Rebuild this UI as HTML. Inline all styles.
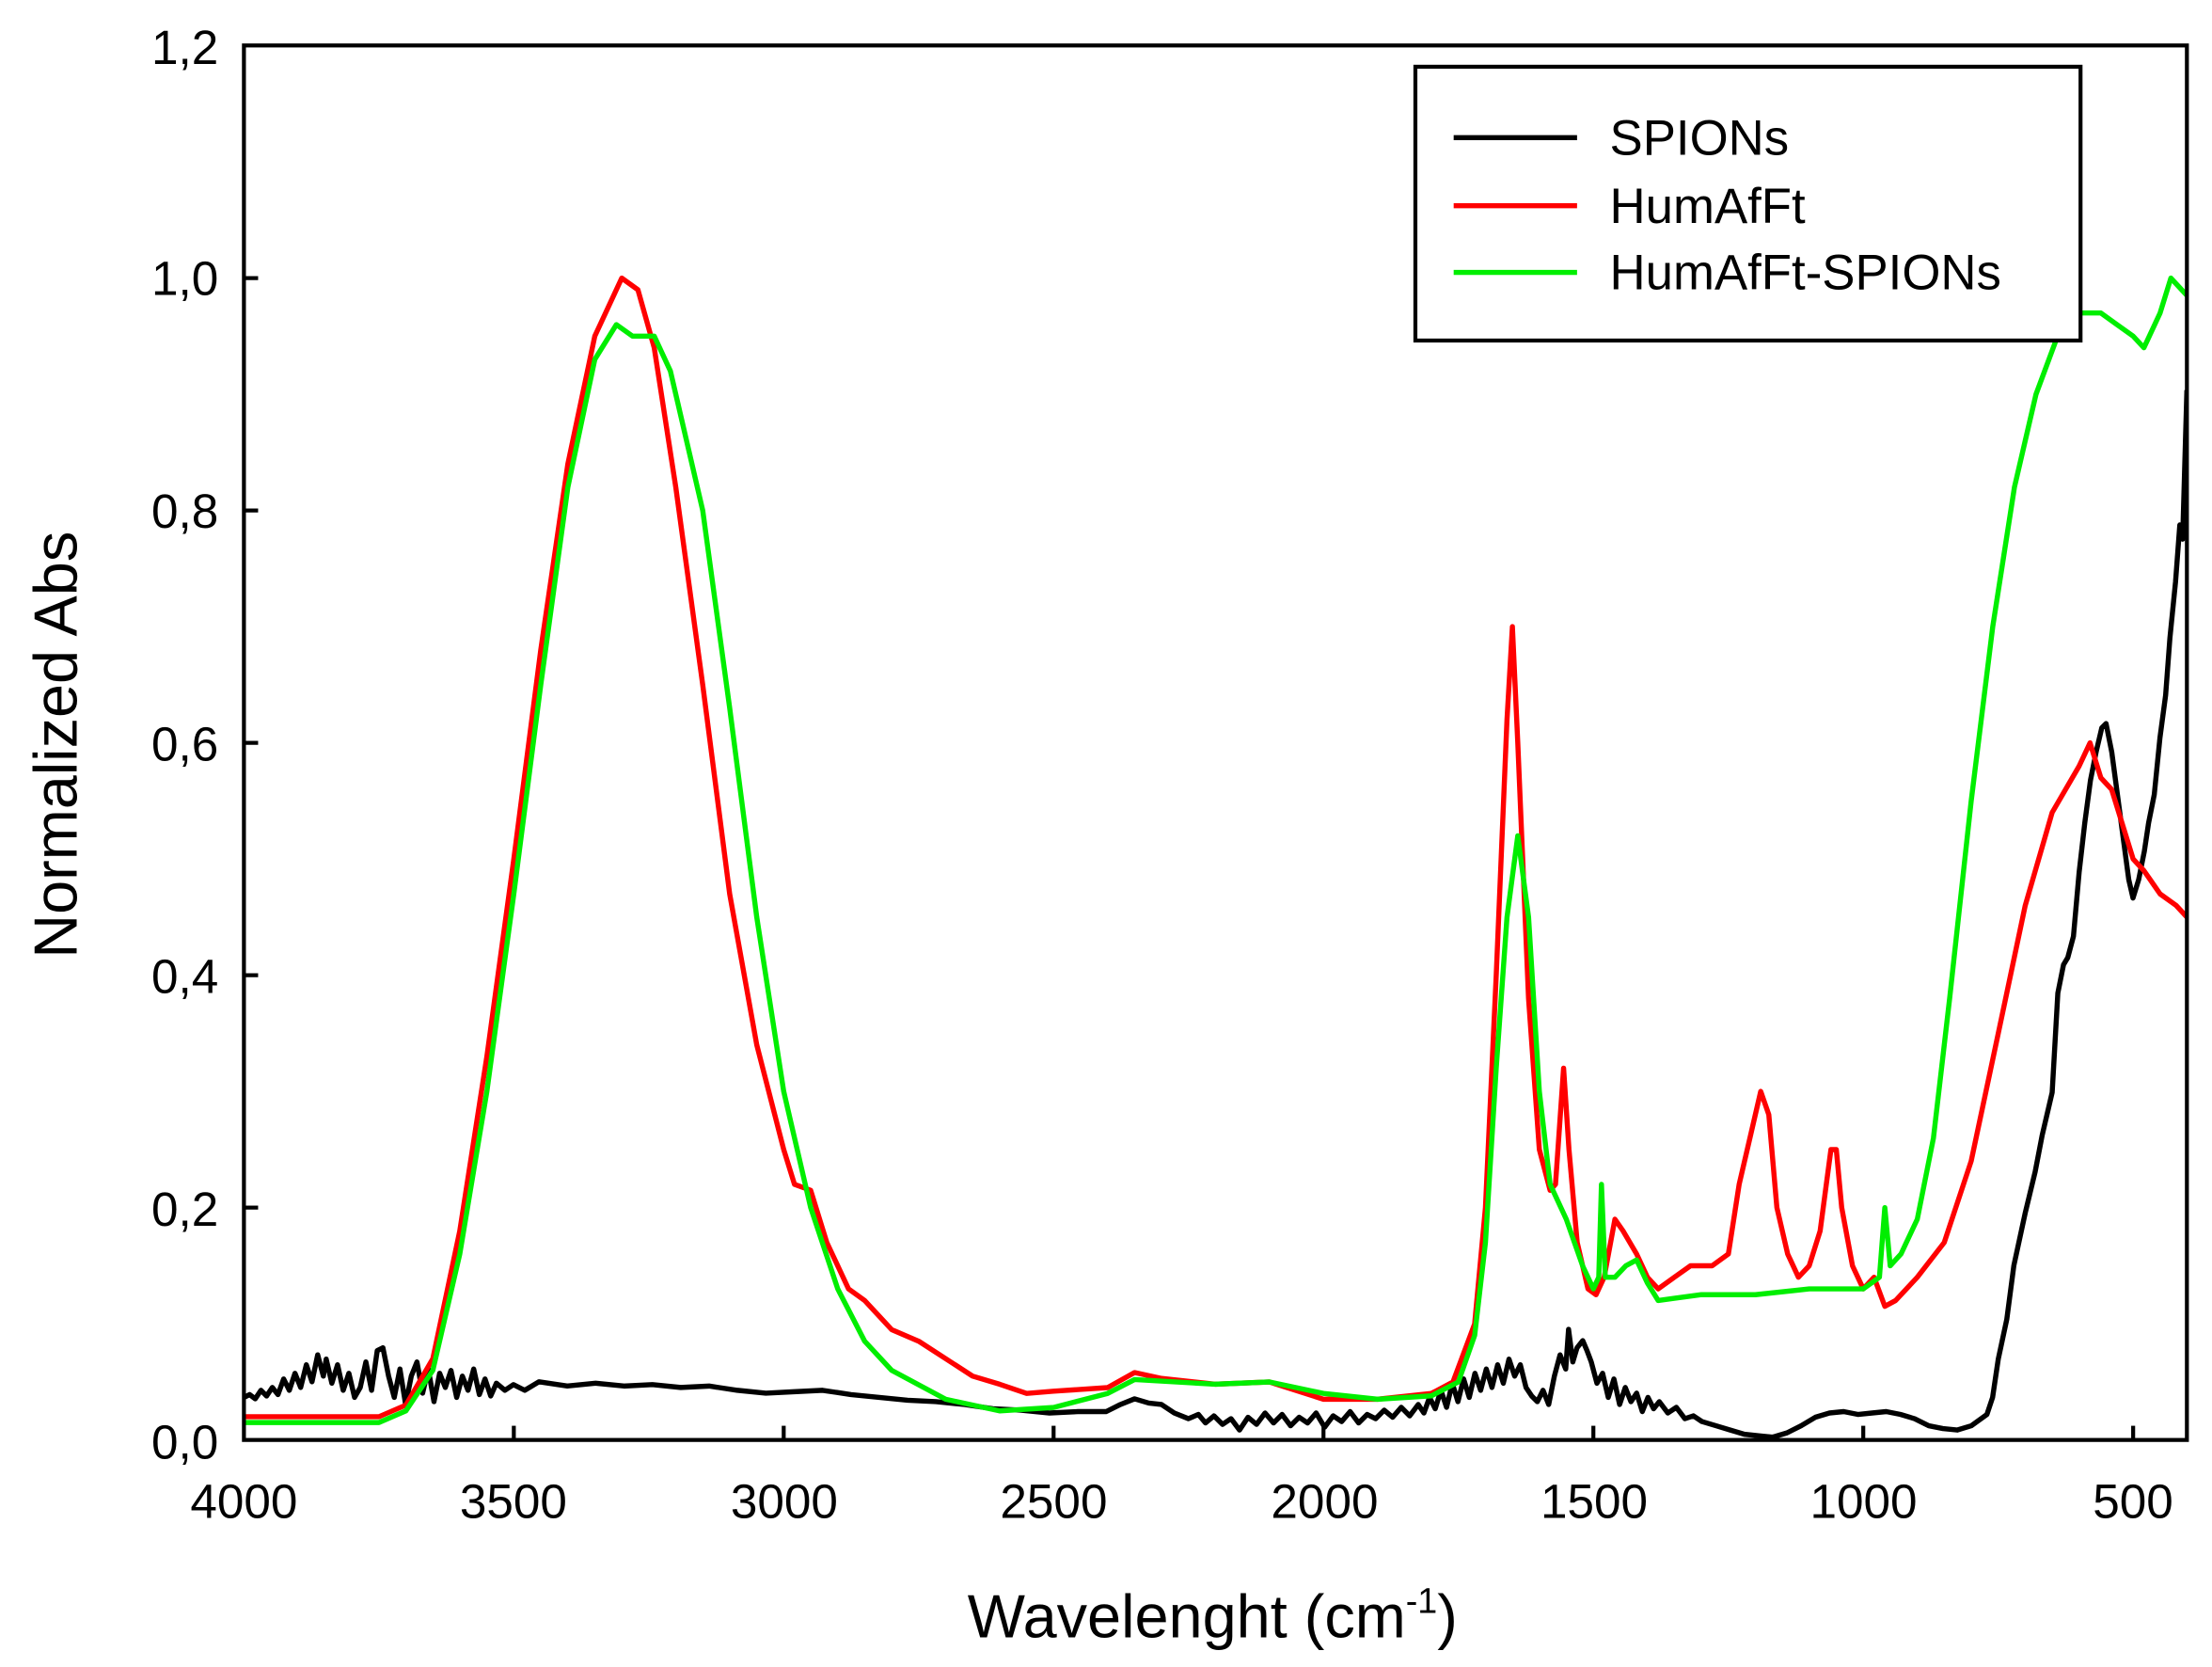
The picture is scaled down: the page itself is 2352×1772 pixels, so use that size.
<!DOCTYPE html>
<html><head><meta charset="utf-8"><style>html,body{margin:0;padding:0;background:#fff}svg{display:block}</style></head>
<body>
<svg width="2352" height="1772" viewBox="0 0 1559.7 1175" xmlns="http://www.w3.org/2000/svg" font-family="Liberation Sans, Arial, sans-serif">
<defs><clipPath id="c"><rect x="172" y="32" width="1370" height="983"/></clipPath></defs>
<rect width="1560" height="1175" fill="#fff"/>
<g clip-path="url(#c)" fill="none" stroke-width="3.6" stroke-linejoin="round">
<path stroke="#000" d="M172 985 L176 983 L180 986 L184 980 L188 984 L192 978 L196 983 L200 972 L204 980 L208 968 L212 978 L216 962 L220 974 L224 955 L228 970 L230 958 L234 975 L238 962 L242 980 L246 968 L250 985 L254 978 L258 960 L262 980 L266 952 L270 950 L274 970 L278 985 L282 965 L286 990 L290 970 L294 960 L298 982 L302 965 L306 988 L310 968 L314 978 L318 966 L322 985 L326 970 L330 980 L334 965 L338 983 L342 972 L346 984 L350 975 L356 980 L362 976 L370 980 L380 974 L400 977 L420 975 L440 977 L460 976 L480 978 L500 977 L520 980 L540 982 L560 981 L580 980 L600 983 L620 985 L640 987 L660 988 L680 990 L700 993 L720 994 L740 996 L760 995 L780 995 L790 990 L800 986 L810 989 L819 990 L828 996 L838 1000 L845 997 L850 1003 L856 998 L862 1004 L868 1000 L874 1008 L880 999 L886 1004 L892 996 L898 1003 L904 997 L910 1005 L916 999 L922 1003 L928 996 L934 1006 L940 998 L946 1002 L952 995 L958 1003 L964 997 L970 1000 L976 994 L982 999 L988 992 L994 998 L1000 990 L1004 996 L1008 985 L1012 993 L1016 980 L1020 992 L1024 975 L1028 988 L1032 972 L1036 985 L1040 968 L1044 980 L1048 965 L1052 978 L1056 962 L1060 975 L1064 958 L1068 970 L1072 962 L1076 978 L1080 984 L1084 988 L1088 980 L1092 990 L1096 970 L1100 955 L1104 965 L1106 937 L1109 960 L1112 950 L1116 945 L1119 952 L1122 960 L1126 975 L1130 968 L1134 985 L1138 972 L1142 990 L1146 978 L1150 988 L1154 982 L1158 995 L1162 985 L1166 993 L1170 988 L1176 996 L1182 992 L1188 1000 L1194 998 L1200 1002 L1210 1005 L1220 1008 L1230 1011 L1240 1012 L1250 1013 L1260 1010 L1270 1005 L1280 999 L1290 996 L1300 995 L1310 997 L1320 996 L1330 995 L1340 997 L1350 1000 L1360 1005 L1370 1007 L1380 1008 L1390 1005 L1401 997 L1405 985 L1409 958 L1415 930 L1420 892 L1428 855 L1435 826 L1440 800 L1447 770 L1451 700 L1455 680 L1458 675 L1462 660 L1466 615 L1470 580 L1474 550 L1478 530 L1482 513 L1485 510 L1489 530 L1493 560 L1497 590 L1501 620 L1504 633 L1508 620 L1512 600 L1515 580 L1519 560 L1523 520 L1527 490 L1530 450 L1534 410 L1537 370 L1539 380 L1542 275"/>
<path stroke="#f00" d="M172 998.6 L267.2 998.6 L286.2 990.4 L305.2 957.7 L324.2 867.6 L343.3 744.7 L362.3 605.5 L381.3 458.1 L400.4 327.0 L419.4 236.9 L438.4 196 L449.8 204.2 L461.3 245.1 L476.5 343.4 L495.5 482.7 L514.5 630.1 L533.6 736.5 L552.6 810.3 L560.2 834.8 L571.6 839.0 L583.0 875.8 L598.3 908.5 L609.7 916.7 L628.7 937.2 L647.8 945.4 L666.8 957.7 L685.8 970.0 L704.8 975.7 L723.9 982.2 L742.9 980.6 L781.0 978.1 L800.0 967.5 L819.0 971.6 L857.1 975.7 L895.1 974.1 L933.2 986.3 L971.3 986.3 L1009.3 982.2 L1024.5 974.1 L1039.8 933.1 L1047.4 851.2 L1055.0 687.4 L1062.6 507.2 L1066.4 441.7 L1070.2 523.6 L1077.8 703.8 L1085.4 810.3 L1093.0 839.0 L1096.8 834.8 L1102.5 752.9 L1106.3 810.3 L1112.1 875.8 L1119.7 908.5 L1125.4 912.6 L1131.1 900.3 L1138.7 859.4 L1144.4 867.6 L1154.0 883.9 L1161.6 900.3 L1169.2 908.5 L1180.6 900.3 L1192.0 892.2 L1207.3 892.2 L1218.7 883.9 L1226.3 834.8 L1233.9 802.1 L1241.5 769.3 L1247.2 785.7 L1252.9 851.2 L1260.5 883.9 L1268.1 900.3 L1275.7 892.2 L1283.4 867.6 L1291.0 810.3 L1294.8 810.3 L1298.6 851.2 L1306.2 892.2 L1313.8 908.5 L1321.4 900.3 L1329.0 920.8 L1336.6 916.7 L1351.9 900.3 L1370.9 875.8 L1389.9 818.4 L1409.0 728.4 L1428.0 638.3 L1447.0 572.7 L1466.0 540.0 L1473.7 523.6 L1481.3 548.2 L1488.9 556.4 L1496.5 580.9 L1504.1 605.5 L1511.7 613.7 L1523.1 630.1 L1534.5 638.3 L1542.1 646.5"/>
<path stroke="#0e0" d="M172 1002.7 L267.2 1002.7 L286.2 994.5 L305.2 965.9 L324.2 883.9 L343.3 769.3 L362.3 630 L381.3 482.7 L400.4 343.4 L419.4 253.3 L434.6 228.8 L446.0 236.9 L461.3 236.9 L472.7 261.5 L495.5 359.8 L514.5 499.0 L533.6 646.5 L552.6 769.3 L571.6 851.2 L590.7 908.5 L609.7 945.4 L628.7 965.9 L666.8 986.3 L704.8 994.5 L742.9 992.1 L781.0 982.2 L800.0 972.4 L857.1 975.7 L895.1 974.1 L933.2 982.2 L971.3 986.3 L1009.3 983.9 L1028.3 974.1 L1039.8 941.3 L1047.4 875.8 L1055.0 752.9 L1062.6 646.5 L1070.2 589.1 L1077.8 646.5 L1085.4 769.3 L1093.0 834.8 L1104.4 859.4 L1115.9 892.2 L1123.5 908.5 L1127.3 900.3 L1129.2 834.8 L1131.9 900.3 L1138.7 900.3 L1146.4 892.2 L1154.0 888.1 L1161.6 904.4 L1169.2 916.7 L1199.6 912.6 L1237.7 912.6 L1275.7 908.5 L1313.8 908.5 L1325.2 900.3 L1329.0 851.2 L1332.8 892.2 L1340.4 883.9 L1351.9 859.4 L1363.3 802.1 L1374.7 703.8 L1389.9 564.6 L1405.1 441.7 L1420.4 343.4 L1435.6 277.9 L1450.8 236.9 L1466.0 220.6 L1481.3 220.6 L1492.7 228.8 L1504.1 236.9 L1511.7 245.1 L1523.1 220.6 L1530.7 196 L1538.3 204.2 L1542.1 208.3"/>
</g>
<rect x="172" y="32" width="1370" height="983" fill="none" stroke="#000" stroke-width="2.8"/>
<g stroke="#000" stroke-width="2.8">
<line x1="362.3" y1="1015" x2="362.3" y2="1005"/><line x1="552.6" y1="1015" x2="552.6" y2="1005"/><line x1="742.9" y1="1015" x2="742.9" y2="1005"/><line x1="933.2" y1="1015" x2="933.2" y2="1005"/><line x1="1123.5" y1="1015" x2="1123.5" y2="1005"/><line x1="1313.8" y1="1015" x2="1313.8" y2="1005"/><line x1="1504.1" y1="1015" x2="1504.1" y2="1005"/>
<line x1="172" y1="851.2" x2="182" y2="851.2"/><line x1="172" y1="687.4" x2="182" y2="687.4"/><line x1="172" y1="523.6" x2="182" y2="523.6"/><line x1="172" y1="359.8" x2="182" y2="359.8"/><line x1="172" y1="196" x2="182" y2="196"/>
</g>
<g font-size="34" fill="#000" text-anchor="end">
<text x="154" y="1028">0,0</text><text x="154" y="864">0,2</text><text x="154" y="700">0,4</text>
<text x="154" y="536">0,6</text><text x="154" y="372">0,8</text><text x="154" y="208">1,0</text><text x="154" y="45">1,2</text>
</g>
<g font-size="34" fill="#000" text-anchor="middle">
<text x="172" y="1070">4000</text><text x="362" y="1070">3500</text><text x="553" y="1070">3000</text>
<text x="743" y="1070">2500</text><text x="934" y="1070">2000</text><text x="1124" y="1070">1500</text>
<text x="1314" y="1070">1000</text><text x="1504" y="1070">500</text>
</g>
<text x="855" y="1154" font-size="43" text-anchor="middle">Wavelenght (cm<tspan font-size="25" dy="-17">-1</tspan><tspan dy="17">)</tspan></text>
<text transform="translate(54,525) rotate(-90)" font-size="43" text-anchor="middle">Normalized Abs</text>
<rect x="998" y="47" width="469" height="193" fill="#fff" stroke="#000" stroke-width="2.8"/>
<line x1="1025" y1="97" x2="1112" y2="97" stroke="#000" stroke-width="3.6"/>
<line x1="1025" y1="145" x2="1112" y2="145" stroke="#f00" stroke-width="3.6"/>
<line x1="1025" y1="192" x2="1112" y2="192" stroke="#0e0" stroke-width="3.6"/>
<g font-size="35" fill="#000"><text x="1135" y="109">SPIONs</text><text x="1135" y="157">HumAfFt</text><text x="1135" y="204">HumAfFt-SPIONs</text></g>
</svg>
</body></html>
